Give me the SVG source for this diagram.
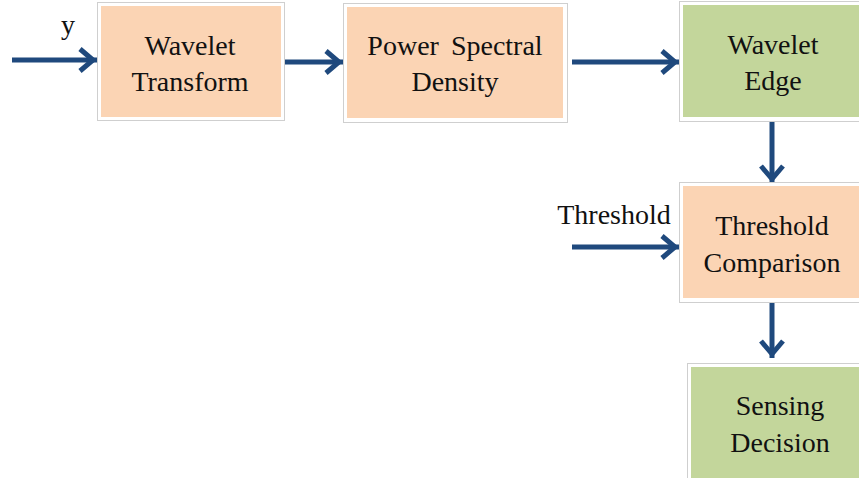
<svg xmlns="http://www.w3.org/2000/svg" width="859" height="478" viewBox="0 0 859 478">
<style>
.frame{fill:#ffffff;stroke:#cfcfcf;stroke-width:1}
.orange{fill:#FBD4B4}
.green{fill:#C3D69B}
.lbl{font-family:"Liberation Serif","Times New Roman",serif;font-size:28px;fill:#111111;text-anchor:middle}
.conn{stroke:#1F497D;stroke-width:5;fill:none;marker-end:url(#arr)}
</style>
<defs>
<marker id="arr" markerUnits="userSpaceOnUse" viewBox="-22 -15 24 30" refX="0" refY="0" markerWidth="24" markerHeight="30" orient="auto">
<path d="M-17,-11 L-4,0 L-17,11" fill="none" stroke="#1F497D" stroke-width="5" stroke-linejoin="miter"/>
</marker>
</defs>
<rect width="859" height="478" fill="#ffffff"/>
<g id="connectors">
<path class="conn" d="M12,60 L97,60"/>
<path class="conn" d="M285,62 L343,62"/>
<path class="conn" d="M572,62 L679,62"/>
<path class="conn" d="M772,121 L772,183"/>
<path class="conn" d="M572,247 L679,247"/>
<path class="conn" d="M772,302 L772,358"/>
</g>
<g id="wavelet-transform">
<rect class="frame" x="97.5" y="2.5" width="187" height="118"/>
<rect class="orange" x="101" y="6" width="180" height="111"/>
<text class="lbl" x="190" y="55">Wavelet</text>
<text class="lbl" x="190" y="91">Transform</text>
</g>
<g id="power-spectral-density">
<rect class="frame" x="343.5" y="3.5" width="224" height="119"/>
<rect class="orange" x="347" y="7" width="216" height="111"/>
<text class="lbl" x="455" y="55" word-spacing="5">Power Spectral</text>
<text class="lbl" x="455" y="91">Density</text>
</g>
<g id="wavelet-edge">
<rect class="frame" x="679.5" y="1.5" width="185" height="120"/>
<rect class="green" x="683" y="5" width="176" height="112"/>
<text class="lbl" x="773" y="54">Wavelet</text>
<text class="lbl" x="773" y="90">Edge</text>
</g>
<g id="threshold-comparison">
<rect class="frame" x="679.5" y="182.5" width="185" height="120"/>
<rect class="orange" x="683" y="186" width="176" height="112"/>
<text class="lbl" x="772" y="235">Threshold</text>
<text class="lbl" x="772" y="272">Comparison</text>
</g>
<g id="sensing-decision">
<rect class="frame" x="687.5" y="363.5" width="180" height="120"/>
<rect class="green" x="691" y="367" width="168" height="111"/>
<text class="lbl" x="780" y="415">Sensing</text>
<text class="lbl" x="780" y="452">Decision</text>
</g>
<g id="labels">
<text class="lbl" x="68" y="34">y</text>
<text class="lbl" x="614" y="224">Threshold</text>
</g>
</svg>
